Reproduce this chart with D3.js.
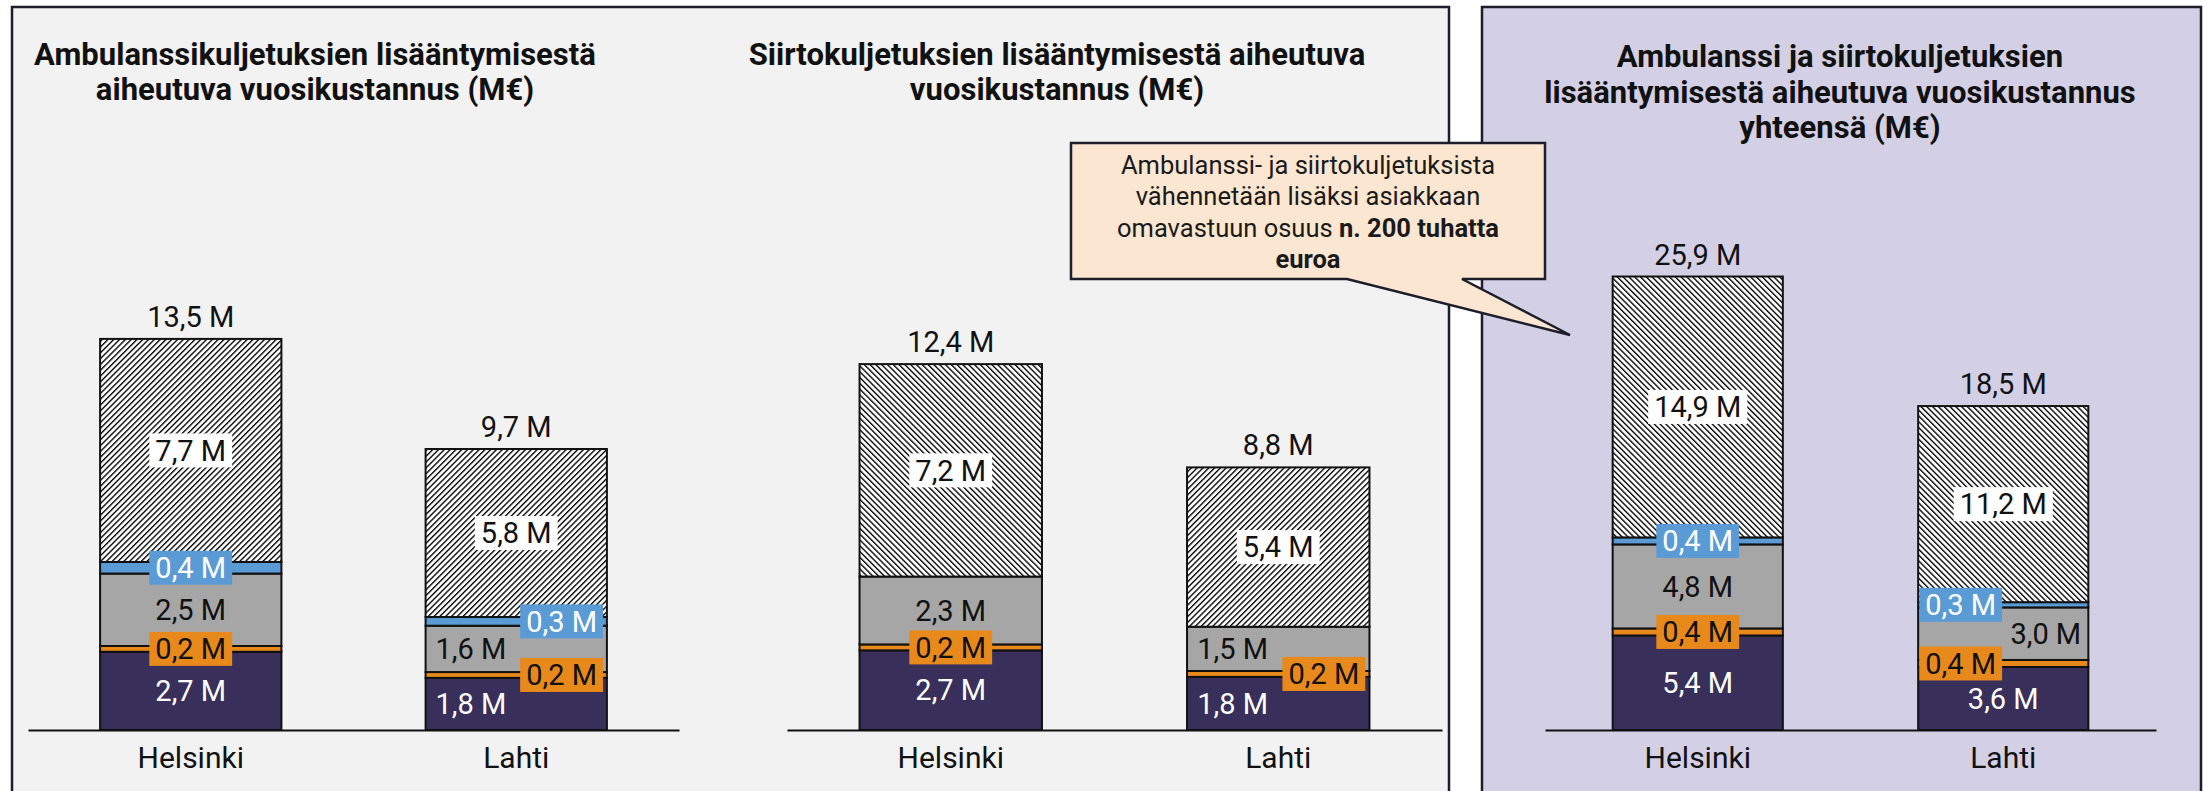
<!DOCTYPE html>
<html>
<head>
<meta charset="utf-8">
<script src="https://cdn.jsdelivr.net/npm/d3@7"></script>
<style>
  html, body { margin: 0; padding: 0; background: #ffffff; }
  svg { display: block; }
  text { font-family: Roboto, "Noto Sans", sans-serif; }
</style>
</head>
<body>
<svg id="chart" width="2205" height="791"></svg>
<script>
// ---- data (M€) ----
const categories = ["Helsinki", "Lahti"];
const seriesKeys = ["dark", "orange", "grey", "blue", "hatched"];

// Ambulanssikuljetukset
const ambulanceDark    = [2.7, 1.8];
const ambulanceOrange  = [0.2, 0.2];
const ambulanceGrey    = [2.5, 1.6];
const ambulanceBlue    = [0.4, 0.3];
const ambulanceHatched = [7.7, 5.8];
const ambulanceTotal   = [13.5, 9.7];

// Siirtokuljetukset
const transferDark    = [2.7, 1.8];
const transferOrange  = [0.2, 0.2];
const transferGrey    = [2.3, 1.5];
const transferBlue    = [0, 0];
const transferHatched = [7.2, 5.4];
const transferTotal   = [12.4, 8.8];

// Yhteensä
const combinedDark    = [5.4, 3.6];
const combinedOrange  = [0.4, 0.4];
const combinedGrey    = [4.8, 3.0];
const combinedBlue    = [0.4, 0.3];
const combinedHatched = [14.9, 11.2];
const combinedTotal   = [25.9, 18.5];

const titles = [
  ["Ambulanssikuljetuksien lisääntymisestä", "aiheutuva vuosikustannus (M€)"],
  ["Siirtokuljetuksien lisääntymisestä aiheutuva", "vuosikustannus (M€)"],
  ["Ambulanssi ja siirtokuljetuksien", "lisääntymisestä aiheutuva vuosikustannus", "yhteensä (M€)"]
];

const calloutLines = [
  [{t: "Ambulanssi- ja siirtokuljetuksista", b: false}],
  [{t: "vähennetään lisäksi asiakkaan", b: false}],
  [{t: "omavastuun osuus ", b: false}, {t: "n. 200 tuhatta", b: true}],
  [{t: "euroa", b: true}]
];

// ---- styling ----
const colors = {
  dark: "#38305a",
  orange: "#e8891c",
  grey: "#a6a6a6",
  blue: "#5b9bd5",
  stroke: "#111111",
  panel: "#f2f2f2",
  panelTotal: "#d3d0e6",
  panelBorder: "#1d1d2b",
  callout: "#fbe6d1"
};

function rows(dark, orange, grey, blue, hatched, total) {
  return categories.map((c, i) => ({
    category: c, dark: dark[i], orange: orange[i], grey: grey[i],
    blue: blue[i], hatched: hatched[i], total: total[i]
  }));
}

// layout for each of the three charts
const charts = [
  {
    data: rows(ambulanceDark, ambulanceOrange, ambulanceGrey, ambulanceBlue, ambulanceHatched, ambulanceTotal),
    x0: 28, x1: 679, yMax: 16.5, titleX: 315, titleY: [65, 100.5],
    hatch: {Helsinki: "hatchUp", Lahti: "hatchUp"},
    shift: {Helsinki: {}, Lahti: {dark: -1, grey: -1, orange: 1, blue: 1}}
  },
  {
    data: rows(transferDark, transferOrange, transferGrey, transferBlue, transferHatched, transferTotal),
    x0: 787, x1: 1442, yMax: 16.2, titleX: 1057, titleY: [65, 100.5],
    hatch: {Helsinki: "hatchDown", Lahti: "hatchUp"},
    shift: {Helsinki: {}, Lahti: {dark: -1, grey: -1, orange: 1}}
  },
  {
    data: rows(combinedDark, combinedOrange, combinedGrey, combinedBlue, combinedHatched, combinedTotal),
    x0: 1545, x1: 2156, yMax: 27.3, titleX: 1840, titleY: [67, 103, 138.5],
    hatch: {Helsinki: "hatchDown", Lahti: "hatchDown"},
    shift: {Helsinki: {}, Lahti: {orange: -1, blue: -1, grey: 1}}
  }
];

const baseY = 730, topY = 252;
const svg = d3.select("#chart");
const fmt = v => d3.format(".1f")(v).replace(".", ",") + " M";

// hatch patterns
const defs = svg.append("defs");
[["hatchUp", 45], ["hatchDown", -45]].forEach(([id, angle]) => {
  const p = defs.append("pattern")
    .attr("id", id).attr("patternUnits", "userSpaceOnUse")
    .attr("width", 4.1).attr("height", 4.1)
    .attr("patternTransform", `rotate(${angle})`);
  p.append("rect").attr("width", 4.1).attr("height", 4.1).attr("fill", "#ffffff");
  p.append("rect").attr("width", 1.35).attr("height", 4.1).attr("fill", "#000000");
});

// background panels
svg.append("rect").attr("x", 12).attr("y", 7).attr("width", 1437).attr("height", 820)
  .attr("fill", colors.panel).attr("stroke", colors.panelBorder).attr("stroke-width", 2.5);
svg.append("rect").attr("x", 1482).attr("y", 7).attr("width", 719).attr("height", 820)
  .attr("fill", colors.panelTotal).attr("stroke", colors.panelBorder).attr("stroke-width", 2.5);

const stack = d3.stack().keys(seriesKeys);

charts.forEach((ch, ci) => {
  const g = svg.append("g");
  const x = d3.scaleBand().domain(categories).range([ch.x0, ch.x1])
    .paddingInner(0.443).paddingOuter(0.2215);
  const y = d3.scaleLinear().domain([0, ch.yMax]).range([baseY, topY]);
  const bw = x.bandwidth();

  // title
  const tg = g.append("g").attr("transform", `translate(${ch.titleX},0) scale(0.97,1)`);
  titles[ci].forEach((line, li) => {
    tg.append("text").attr("x", 0).attr("y", ch.titleY[li])
      .attr("text-anchor", "middle").attr("font-size", 32).attr("font-weight", 700)
      .attr("fill", "#111").text(line);
  });

  const layers = stack(ch.data);

  // segments
  layers.forEach(layer => {
    const key = layer.key;
    g.append("g").selectAll("rect")
      .data(layer.filter(d => d.data[key] > 0))
      .join("rect")
      .attr("x", d => x(d.data.category))
      .attr("y", d => y(d[1]))
      .attr("width", bw)
      .attr("height", d => y(d[0]) - y(d[1]))
      .attr("fill", d => key === "hatched" ? `url(#${ch.hatch[d.data.category]})` : colors[key])
      .attr("stroke", colors.stroke).attr("stroke-width", 2);
  });

  // axis
  const axis = g.append("g").attr("transform", `translate(0,${baseY})`)
    .call(d3.axisBottom(x).tickSize(0).tickPadding(16.7));
  axis.select(".domain").attr("stroke", "#111").attr("stroke-width", 2.2);
  axis.selectAll("text").attr("font-size", 30).attr("fill", "#111")
    .style("font-family", "Roboto, 'Noto Sans', sans-serif");

  // segment labels
  const fs = 29;
  layers.forEach(layer => {
    const key = layer.key;
    layer.filter(d => d.data[key] > 0).forEach(d => {
      const cat = d.data.category;
      const s = (ch.shift[cat] && ch.shift[cat][key]) || 0;
      const cx = x(cat) + bw / 2 + s * bw * 0.25;
      const cy = (y(d[0]) + y(d[1])) / 2;
      const lg = g.append("g");
      const boxFill = key === "hatched" ? "#ffffff" : key === "blue" ? colors.blue :
                      key === "orange" ? colors.orange : null;
      const textFill = (key === "dark" || key === "blue") ? "#ffffff" : "#111111";
      const rect = boxFill ? lg.append("rect").attr("fill", boxFill) : null;
      const t = lg.append("text").attr("x", cx).attr("y", cy + fs * 0.355)
        .attr("text-anchor", "middle").attr("font-size", fs).attr("fill", textFill)
        .text(fmt(d.data[key]));
      if (rect) {
        const w = t.node().getComputedTextLength() + 12;
        rect.attr("x", cx - w / 2).attr("y", cy - 17).attr("width", w).attr("height", 34);
      }
    });
  });

  // totals
  g.append("g").selectAll("text").data(ch.data).join("text")
    .attr("x", d => x(d.category) + bw / 2)
    .attr("y", d => y(d3.sum(seriesKeys, k => d[k])) - 12)
    .attr("text-anchor", "middle").attr("font-size", fs).attr("fill", "#111")
    .text(d => fmt(d.total));
});

// callout box with pointer
const cb = {x0: 1071, y0: 143, x1: 1545, y1: 279, tailA: 1347, tailB: 1462, tipX: 1570, tipY: 335};
svg.append("path")
  .attr("d", `M${cb.x0},${cb.y0} H${cb.x1} V${cb.y1} H${cb.tailB} L${cb.tipX},${cb.tipY} L${cb.tailA},${cb.y1} H${cb.x0} Z`)
  .attr("fill", colors.callout).attr("stroke", "#1d1d2b").attr("stroke-width", 2.5)
  .attr("stroke-linejoin", "miter");
const cx = (cb.x0 + cb.x1) / 2;
calloutLines.forEach((parts, i) => {
  const t = svg.append("text").attr("x", cx).attr("y", 174 + i * 31.3)
    .attr("text-anchor", "middle").attr("font-size", 25.5).attr("fill", "#1a1a1a");
  parts.forEach(p => t.append("tspan").attr("font-weight", p.b ? 700 : 400).text(p.t));
});
</script>
</body>
</html>
